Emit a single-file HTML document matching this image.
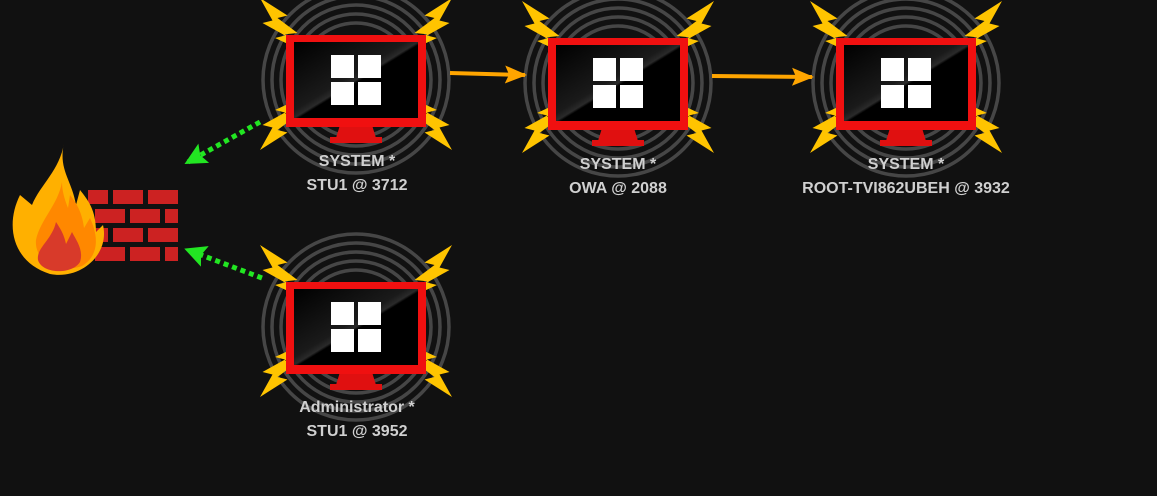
<!DOCTYPE html>
<html><head><style>
html,body{margin:0;padding:0;background:#111;}
svg{display:block}
text{font-family:"Liberation Sans",sans-serif;font-weight:bold;font-size:16px;fill:#d0d0d0;text-anchor:middle}
</style></head><body>
<svg width="1157" height="496" viewBox="0 0 1157 496">
<defs>
<linearGradient id="scr" x1="0" y1="0" x2="1" y2="1">
<stop offset="0" stop-color="#000"/><stop offset="0.45" stop-color="#1a1a1a"/><stop offset="0.5" stop-color="#2a2a2a"/><stop offset="0.52" stop-color="#000"/><stop offset="1" stop-color="#000"/>
</linearGradient>
<polygon id="bolt" points="0,0 22,14 14,16 30,28 20,29 38,44 12,32 20,30 2,20 10,18" fill="#ffc400"/>
<g id="node">
<g fill="none" stroke="#464646" stroke-width="3.5">
<circle r="93"/><circle r="84"/><circle r="75"/><circle r="66"/><circle r="57"/>
</g>
<use href="#bolt" transform="translate(-96,-82) scale(1.25)"/>
<use href="#bolt" transform="translate(96,-82) scale(-1.25,1.25)"/>
<use href="#bolt" transform="translate(-96,70) scale(1.25,-1.25)"/>
<use href="#bolt" transform="translate(96,70) scale(-1.25,-1.25)"/>
<polygon points="-16,45 16,45 20,58 -20,58" fill="#e01010"/>
<rect x="-26" y="57" width="52" height="6" fill="#e01010"/>
<rect x="-70" y="-45" width="140" height="92" fill="#f01010"/>
<rect x="-62" y="-38" width="124" height="76" fill="url(#scr)"/>
<rect x="-25" y="-25" width="23" height="23" fill="#fff"/>
<rect x="2" y="-25" width="23" height="23" fill="#fff"/>
<rect x="-25" y="2" width="23" height="23" fill="#fff"/>
<rect x="2" y="2" width="23" height="23" fill="#fff"/>
</g>
<marker id="ao" markerWidth="22" markerHeight="22" refX="20" refY="11" orient="auto" markerUnits="userSpaceOnUse"><path d="M0,2 L22,11 L0,20 L4,11 Z" fill="#ffa500"/></marker>
<marker id="ag" markerWidth="22" markerHeight="22" refX="18" refY="11" orient="auto" markerUnits="userSpaceOnUse"><path d="M0,0 L22,11 L0,22 L4,11 Z" fill="#22e622"/></marker>
</defs>

<use href="#node" transform="translate(356,80)"/>
<use href="#node" transform="translate(618,83)"/>
<use href="#node" transform="translate(906,83)"/>
<use href="#node" transform="translate(356,327)"/>

<text x="357" y="166">SYSTEM *</text><text x="357" y="190">STU1 @ 3712</text>
<text x="618" y="169">SYSTEM *</text><text x="618" y="193">OWA @ 2088</text>
<text x="906" y="169">SYSTEM *</text><text x="906" y="193">ROOT-TVI862UBEH @ 3932</text>
<text x="357" y="412">Administrator *</text><text x="357" y="436">STU1 @ 3952</text>

<line x1="450" y1="73" x2="525" y2="75" stroke="#ffa500" stroke-width="4" marker-end="url(#ao)"/>
<line x1="712" y1="76" x2="812" y2="77" stroke="#ffa500" stroke-width="4" marker-end="url(#ao)"/>

<line x1="260" y1="122" x2="188" y2="162" stroke="#22e622" stroke-width="5" stroke-dasharray="5,4" marker-end="url(#ag)"/>
<line x1="262" y1="278" x2="188" y2="250" stroke="#22e622" stroke-width="5" stroke-dasharray="5,4" marker-end="url(#ag)"/>

<!-- firewall -->
<g fill="#cc2222">
<rect x="88" y="190" width="20" height="14"/><rect x="113" y="190" width="30" height="14"/><rect x="148" y="190" width="30" height="14"/>
<rect x="95" y="209" width="30" height="14"/><rect x="130" y="209" width="30" height="14"/><rect x="165" y="209" width="13" height="14"/>
<rect x="88" y="228" width="20" height="14"/><rect x="113" y="228" width="30" height="14"/><rect x="148" y="228" width="30" height="14"/>
<rect x="95" y="247" width="30" height="14"/><rect x="130" y="247" width="30" height="14"/><rect x="165" y="247" width="13" height="14"/>
</g>
<path d="M64,143 C60,170 40,185 32,205 L20,195 C5,225 12,262 50,274 C80,280 110,255 103,225 L96,232 C96,210 88,200 80,190 L76,205 C72,180 58,170 64,143 Z" fill="#ffb000"/>
<path d="M62,182 C58,205 40,220 36,240 C34,262 60,274 82,266 C100,255 98,235 90,218 L84,228 C82,210 74,200 70,195 L68,208 C64,198 62,190 62,182 Z" fill="#ff8800"/>
<path d="M56,222 C52,240 36,248 38,260 C42,274 72,275 80,262 C84,250 76,240 72,232 L66,244 C64,234 60,228 56,222 Z" fill="#d83a2a"/>
</svg>
</body></html>
